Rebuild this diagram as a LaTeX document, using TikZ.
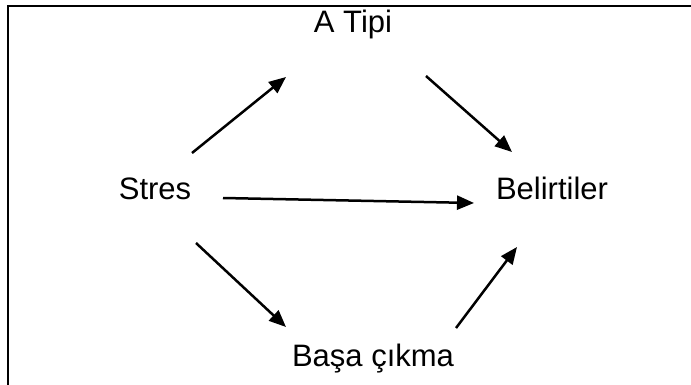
\documentclass[tikz,border=0pt]{standalone}
\usepackage{fontspec}
\setmainfont{Liberation Sans}
\usetikzlibrary{arrows.meta, calc}
\tikzstyle{term} = [inner sep=0pt, anchor=base, font=\fontsize{31}{36}\selectfont]
\tikzstyle{arrow} = [line width=2.5pt, -{Triangle[length=17pt, width=14pt]}]

\begin{document}
\begin{tikzpicture}[x=1pt, y=-1pt]
\useasboundingbox (0,0) rectangle (691,385);
\draw [line width=2.4pt] (8,385) -- (8,6) -- (691,6);

\node (stres) [term] at (155,199) {Stres};
\node (atipi) [term] at (353,33) {A Tipi};
\node (belirt) [term] at (552,199) {Belirtiler};
\node (basa) [term] at (373,366) {Başa çıkma};

\draw [arrow] ($(stres.base)+(37,-46)$) -- ($(atipi.base)+(-67,44)$);
\draw [arrow] ($(atipi.base)+(73,43)$) -- ($(belirt.base)+(-40,-47)$);
\draw [arrow] ($(stres.base)+(68,-1)$) -- ($(belirt.base)+(-78,4)$);
\draw [arrow] ($(stres.base)+(41,44)$) -- ($(basa.base)+(-87,-39)$);
\draw [arrow] ($(basa.base)+(83,-38)$) -- ($(belirt.base)+(-35,48)$);

\end{tikzpicture}
\end{document}
